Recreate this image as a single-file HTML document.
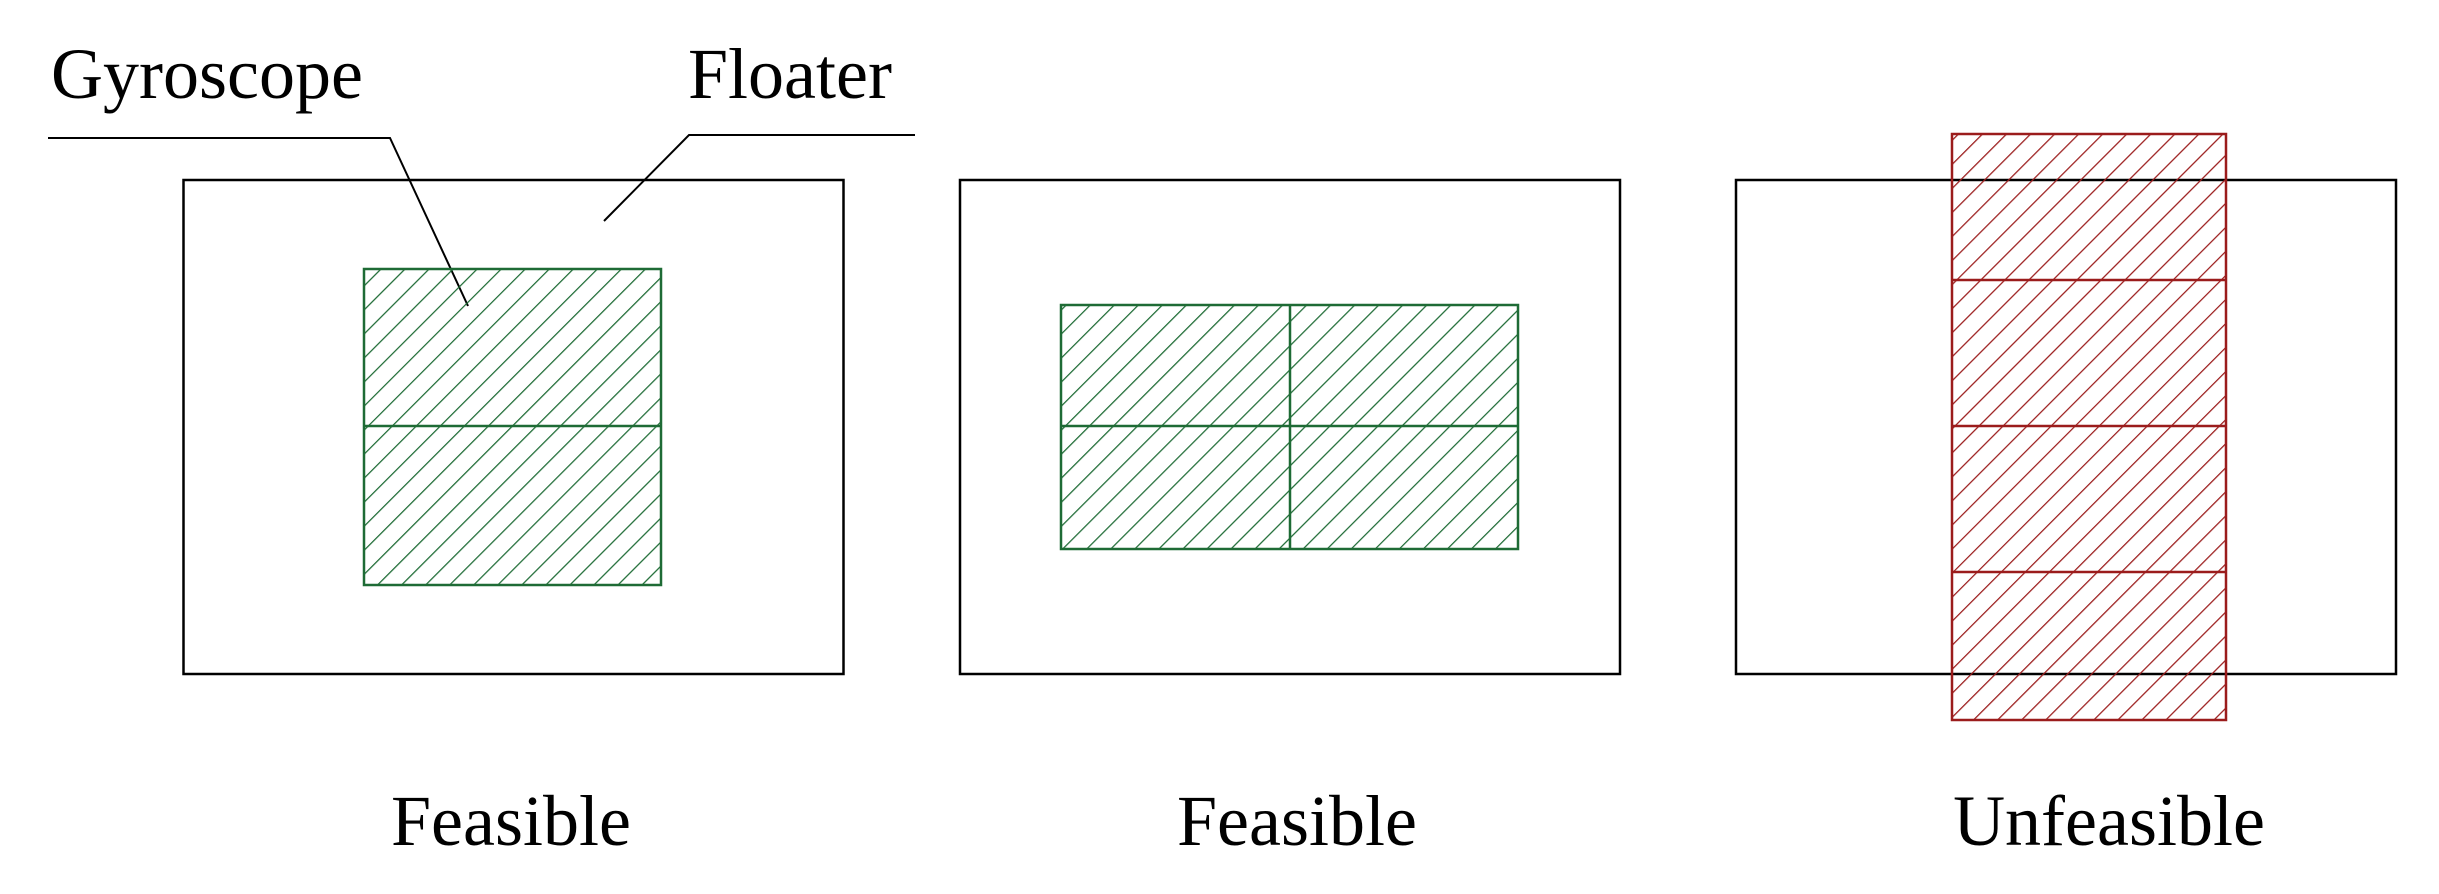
<!DOCTYPE html>
<html><head><style>body{margin:0;background:#fff}svg{display:block}</style></head>
<body>
<svg width="2439" height="894" viewBox="0 0 2439 894" xmlns="http://www.w3.org/2000/svg">
<defs>
<pattern id="hg" patternUnits="userSpaceOnUse" width="17" height="17" patternTransform="rotate(45)">
<line x1="0" y1="-1" x2="0" y2="18" stroke="#1e6b35" stroke-width="2.5"/></pattern>
<pattern id="hr" patternUnits="userSpaceOnUse" width="17" height="17" patternTransform="rotate(45)">
<line x1="0" y1="-1" x2="0" y2="18" stroke="#9b1c1c" stroke-width="2.5"/></pattern>
</defs>
<g fill="none" stroke="#000" stroke-width="2.5">
<rect x="183.5" y="180" width="660" height="494"/>
<rect x="960" y="180" width="660" height="494"/>
<rect x="1736" y="180" width="660" height="494"/>
<polyline points="48,138 390,138 468,306" stroke-width="2"/>
<polyline points="915,135 689,135 604,221" stroke-width="2"/>
</g>
<g stroke="#1e6b35" stroke-width="2.5">
<rect x="364" y="269" width="297" height="316" fill="url(#hg)"/>
<line x1="364" y1="426" x2="661" y2="426"/>
<rect x="1061" y="305" width="457" height="244" fill="url(#hg)"/>
<line x1="1061" y1="426" x2="1518" y2="426"/>
<line x1="1290" y1="305" x2="1290" y2="549"/>
</g>
<g stroke="#9b1c1c" stroke-width="2.5">
<rect x="1952" y="134" width="274" height="586" fill="url(#hr)"/>
<line x1="1952" y1="280" x2="2226" y2="280"/>
<line x1="1952" y1="426" x2="2226" y2="426"/>
<line x1="1952" y1="572" x2="2226" y2="572"/>
</g>
<g font-family="Liberation Serif, serif" font-size="72" fill="#000">
<text x="51" y="98">Gyroscope</text>
<text x="688" y="98">Floater</text>
<text x="511" y="845" text-anchor="middle">Feasible</text>
<text x="1297" y="845" text-anchor="middle">Feasible</text>
<text x="2109" y="845" text-anchor="middle">Unfeasible</text>
</g>
</svg>
</body></html>
